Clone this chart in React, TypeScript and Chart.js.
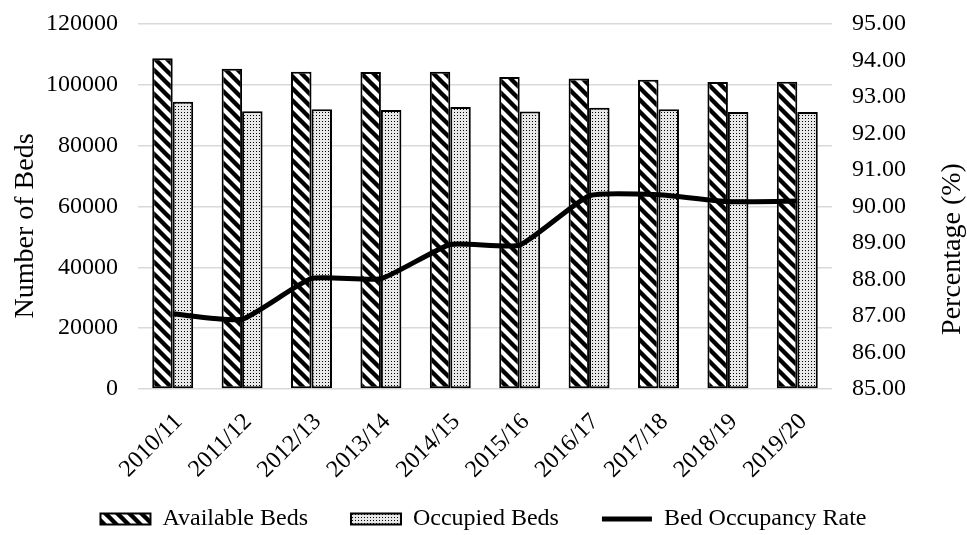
import { useEffect, useRef } from "react";
import { Chart, registerables } from "chart.js";

Chart.register(...registerables);

const FONT = '"Liberation Serif", "Times New Roman", Times, serif';

const categories = ["2010/11", "2011/12", "2012/13", "2013/14", "2014/15", "2015/16", "2016/17", "2017/18", "2018/19", "2019/20"];
const availableBeds = [108700, 105300, 104300, 104200, 104300, 102600, 102100, 101700, 100900, 101000];
const occupiedBeds = [94400, 91300, 92000, 91700, 92700, 91200, 92500, 92000, 91100, 91100];
const occupancyRate = [87.06, 86.91, 88.03, 88.02, 88.96, 88.94, 90.29, 90.32, 90.13, 90.15];

const leftTickValues = [0, 20000, 40000, 60000, 80000, 100000, 120000];
const rightTickValues = [85, 86, 87, 88, 89, 90, 91, 92, 93, 94, 95];

const seriesNames = ["Available Beds", "Occupied Beds", "Bed Occupancy Rate"];
const leftTitle = "Number of Beds";
const rightTitle = "Percentage (%)";

const LEGEND_PAD = 43;
const LEGEND_H = 40;
const LEGEND_CENTER_Y = 519;
const CHART_BOTTOM = 389;

function makeStripe(): CanvasPattern | string {
  const c = document.createElement("canvas");
  const s = 12;
  c.width = s;
  c.height = s;
  const g = c.getContext("2d")!;
  g.fillStyle = "#fff";
  g.fillRect(0, 0, s, s);
  g.strokeStyle = "#000";
  g.lineWidth = 4.4;
  for (const o of [-s, 0, s]) {
    g.beginPath();
    g.moveTo(o - 2, -2);
    g.lineTo(o + s + 2, s + 2);
    g.stroke();
  }
  const ctx = document.createElement("canvas").getContext("2d")!;
  return ctx.createPattern(c, "repeat") || "#888";
}

function makeDots(): CanvasPattern | string {
  const c = document.createElement("canvas");
  c.width = 3;
  c.height = 3;
  const g = c.getContext("2d")!;
  g.fillStyle = "#e8e8e8";
  g.fillRect(0, 0, 3, 3);
  g.fillStyle = "#000";
  g.fillRect(1, 1, 1, 1);
  const ctx = document.createElement("canvas").getContext("2d")!;
  return ctx.createPattern(c, "repeat") || "#ccc";
}

export default function App() {
  const ref = useRef<HTMLCanvasElement>(null);

  useEffect(() => {
    const canvas = ref.current;
    if (!canvas) return;
    Chart.defaults.font.family = FONT;
    Chart.defaults.font.size = 24;
    Chart.defaults.color = "#000";

    const stripe = makeStripe();
    const dots = makeDots();
    const fills = [stripe, dots, "#000"];

    const titlesPlugin = {
      id: "axisTitles",
      afterDraw(chart: any) {
        const c = chart.ctx;
        c.save();
        c.font = `28px ${FONT}`;
        c.fillStyle = "#000";
        c.textAlign = "center";
        c.textBaseline = "alphabetic";
        c.translate(33, 226);
        c.rotate(-Math.PI / 2);
        c.fillText(leftTitle, 0, 0);
        c.restore();
        c.save();
        c.font = `28px ${FONT}`;
        c.fillStyle = "#000";
        c.textAlign = "center";
        c.textBaseline = "alphabetic";
        c.translate(960, 249);
        c.rotate(-Math.PI / 2);
        c.fillText(rightTitle, 0, 0);
        c.restore();
      },
    };

    const legendShift = {
      id: "legendShift",
      afterLayout(chart: any) {
        const lg = chart.legend;
        if (!lg) return;
        lg.top = LEGEND_CENTER_Y - 12 - LEGEND_PAD;
        lg.bottom = chart.height;
        lg.height = lg.bottom - lg.top;
      },
    };

    const chart = new Chart(canvas, {
      type: "bar",
      data: {
        labels: categories,
        datasets: [
          {
            label: seriesNames[0],
            data: availableBeds,
            backgroundColor: stripe as any,
            borderColor: "#000",
            borderWidth: 2,
            borderSkipped: false,
            yAxisID: "y",
            order: 1,
            categoryPercentage: 0.59,
            barPercentage: 1,
          },
          {
            label: seriesNames[1],
            data: occupiedBeds,
            backgroundColor: dots as any,
            borderColor: "#000",
            borderWidth: 2,
            borderSkipped: false,
            yAxisID: "y",
            order: 1,
            categoryPercentage: 0.59,
            barPercentage: 1,
          },
          {
            type: "line",
            label: seriesNames[2],
            data: occupancyRate,
            borderColor: "#000",
            backgroundColor: "#000",
            borderWidth: 5,
            pointRadius: 0,
            tension: 0.15,
            yAxisID: "y1",
            order: 0,
          } as any,
        ],
      },
      options: {
        animation: false,
        responsive: true,
        maintainAspectRatio: false,
        layout: { padding: { top: 24, left: 0, right: 0, bottom: 0 } },
        plugins: {
          tooltip: { enabled: false },
          legend: {
            position: "bottom",
            maxHeight: LEGEND_H,
            labels: {
              usePointStyle: true,
              pointStyleWidth: 50,
              boxHeight: 11,
              padding: LEGEND_PAD,
              color: "#000",
              font: { size: 24, family: FONT },
              generateLabels(ch: any) {
                const items = (Chart.defaults.plugins.legend.labels as any).generateLabels(ch);
                items.sort((a: any, b: any) => a.datasetIndex - b.datasetIndex);
                items.forEach((it: any) => {
                  const i = it.datasetIndex;
                  it.pointStyle = i === 2 ? "line" : "rect";
                  it.lineWidth = i === 2 ? 5 : 2;
                  it.strokeStyle = "#000";
                  it.fillStyle = fills[i];
                });
                return items;
              },
            },
          } as any,
        },
        scales: {
          x: {
            grid: { display: false },
            border: { display: false },
            ticks: { autoSkip: false, minRotation: 45, maxRotation: 45, padding: 11, labelOffset: 6, font: { size: 24 }, color: "#000" },
            afterFit(s: any) {
              s.height = Math.max(10, s.chart.height - CHART_BOTTOM - LEGEND_H);
            },
          },
          y: {
            position: "left",
            min: 0,
            max: 120000,
            grid: { color: "#d9d9d9", lineWidth: 1.5, drawTicks: true, tickLength: 20, tickColor: "rgba(0,0,0,0)" },
            border: { display: false },
            ticks: { padding: 0, font: { size: 24 }, color: "#000", callback: (v: any) => String(v) },
            afterBuildTicks(s: any) {
              s.ticks = leftTickValues.map((v) => ({ value: v }));
            },
            afterFit(s: any) {
              s.width = 138;
            },
          },
          y1: {
            position: "right",
            min: 85,
            max: 95,
            grid: { display: true, drawOnChartArea: false, drawTicks: true, tickLength: 20, tickColor: "rgba(0,0,0,0)" },
            border: { display: false },
            ticks: { padding: 0, font: { size: 24 }, color: "#000", callback: (v: any) => Number(v).toFixed(2) },
            afterBuildTicks(s: any) {
              s.ticks = rightTickValues.map((v) => ({ value: v }));
            },
            afterFit(s: any) {
              s.width = 135;
            },
          },
        },
      },
      plugins: [titlesPlugin, legendShift],
    });

    return () => chart.destroy();
  }, []);

  return (
    <div style={{ position: "fixed", left: 0, top: 0, width: 967, height: 535 }}>
      <canvas ref={ref} />
    </div>
  );
}
